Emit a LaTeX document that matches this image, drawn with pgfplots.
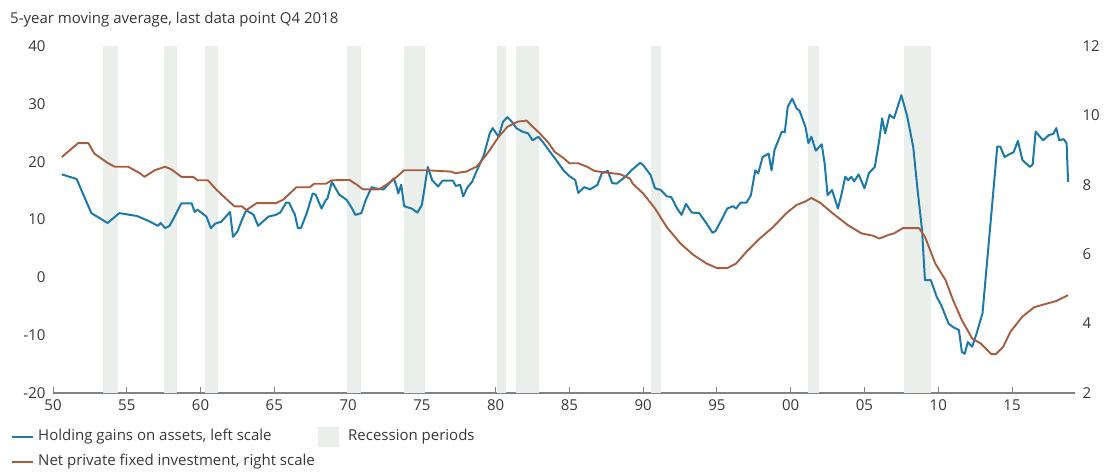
\documentclass[border=0pt]{standalone}
\usepackage{pgfplots}
\pgfplotsset{compat=1.18}
\usepackage{fontspec}
\setmainfont{Open Sans}
\definecolor{blueC}{RGB}{28,122,170}
\definecolor{brownC}{RGB}{168,92,62}
\definecolor{recess}{RGB}{235,239,235}
\definecolor{txt}{RGB}{55,55,55}
\definecolor{axc}{RGB}{130,130,130}
\newcommand{\fs}{\fontsize{15}{18}\selectfont}
\begin{document}
\begin{tikzpicture}[x=1pt,y=1pt]
\path[use as bounding box] (0,0) rectangle (1110,473);
\begin{axis}[
  at={(53pt,80pt)}, anchor=south west,
  scale only axis, width=1022pt, height=347pt,
  xmin=1950, xmax=2019.27, ymin=-20, ymax=40,
  axis x line*=bottom, axis y line*=left,
  y axis line style={draw=none},
  x axis line style={draw=axc, line width=1.3pt, -},
  xtick={1950,1955,...,2015},
  xticklabels={50,55,60,65,70,75,80,85,90,95,00,05,10,15},
  ytick={-20,-10,0,10,20,30,40},
  yticklabels={-20,-10,0,10,20,30,40},
  xtick style={draw=axc, line width=1pt},
  ytick style={draw=none},
  tick align=inside,
  major tick length=6pt,
  tick label style={font=\fs, text=txt},
  yticklabel style={xshift=-4pt},
  xticklabel style={yshift=-3pt},
]
% recession bands
\addplot[fill=recess, draw=none, forget plot] coordinates {(1953.4,-20)(1954.4,-20)(1954.4,40)(1953.4,40)} --cycle;
\addplot[fill=recess, draw=none, forget plot] coordinates {(1957.5,-20)(1958.4,-20)(1958.4,40)(1957.5,40)} --cycle;
\addplot[fill=recess, draw=none, forget plot] coordinates {(1960.3,-20)(1961.2,-20)(1961.2,40)(1960.3,40)} --cycle;
\addplot[fill=recess, draw=none, forget plot] coordinates {(1969.9,-20)(1970.9,-20)(1970.9,40)(1969.9,40)} --cycle;
\addplot[fill=recess, draw=none, forget plot] coordinates {(1973.8,-20)(1975.2,-20)(1975.2,40)(1973.8,40)} --cycle;
\addplot[fill=recess, draw=none, forget plot] coordinates {(1980.1,-20)(1980.7,-20)(1980.7,40)(1980.1,40)} --cycle;
\addplot[fill=recess, draw=none, forget plot] coordinates {(1981.4,-20)(1982.95,-20)(1982.95,40)(1981.4,40)} --cycle;
\addplot[fill=recess, draw=none, forget plot] coordinates {(1990.5,-20)(1991.2,-20)(1991.2,40)(1990.5,40)} --cycle;
\addplot[fill=recess, draw=none, forget plot] coordinates {(2001.2,-20)(2001.9,-20)(2001.9,40)(2001.2,40)} --cycle;
\addplot[fill=recess, draw=none, forget plot] coordinates {(2007.7,-20)(2009.5,-20)(2009.5,40)(2007.7,40)} --cycle;
% Holding gains on assets (left scale)
\addplot[blueC, line width=2pt, line join=round] coordinates {
(1950.6,17.8)(1951.6,17.0)(1952.6,11.1)(1953.7,9.4)(1954.5,11.1)(1955.7,10.6)(1956.6,9.6)
(1957.1,8.9)(1957.3,9.4)(1957.6,8.5)(1957.9,8.9)(1958.3,10.8)(1958.7,12.8)(1959.4,12.8)
(1959.6,11.3)(1959.8,11.7)(1960.4,10.5)(1960.7,8.5)(1961.0,9.3)(1961.4,9.6)(1962.0,11.3)
(1962.2,7.0)(1962.5,7.9)(1962.8,9.9)(1963.1,11.6)(1963.6,10.8)(1963.9,8.9)(1964.6,10.5)
(1965.1,10.8)(1965.4,11.2)(1965.8,12.9)(1966.0,12.9)(1966.4,10.8)(1966.6,8.5)(1966.8,8.5)
(1967.2,11.1)(1967.6,14.5)(1967.8,14.3)(1968.2,11.9)(1968.5,13.4)(1968.6,13.6)(1968.9,16.5)
(1969.4,14.3)(1969.9,13.4)(1970.2,12.2)(1970.5,10.8)(1970.9,11.1)(1971.2,13.4)(1971.6,15.6)
(1971.8,15.4)(1972.4,15.2)(1972.7,16.0)(1973.1,17.1)(1973.3,15.6)(1973.4,14.5)(1973.6,16.0)
(1973.8,12.3)(1974.3,11.9)(1974.7,11.2)(1975.0,12.5)(1975.2,15.7)(1975.4,19.1)(1975.7,16.8)
(1976.1,15.7)(1976.4,16.7)(1977.1,16.7)(1977.3,15.8)(1977.6,16.0)(1977.8,14.0)(1978.1,15.6)
(1978.4,16.5)(1978.7,18.3)(1979.2,21.1)(1979.6,24.9)(1979.8,25.8)(1980.2,24.3)(1980.5,26.9)
(1980.8,27.7)(1981.1,26.9)(1981.4,25.8)(1981.8,25.2)(1982.2,24.9)(1982.5,23.7)(1982.9,24.3)
(1983.2,23.4)(1983.6,22.0)(1984.1,20.3)(1984.6,18.5)(1985.0,17.5)(1985.4,16.8)(1985.6,14.6)
(1986.0,15.6)(1986.4,15.2)(1986.9,16.0)(1987.2,18.0)(1987.6,18.4)(1987.9,16.3)(1988.2,16.2)
(1988.8,17.4)(1989.2,18.5)(1989.8,19.8)(1990.0,19.4)(1990.5,17.7)(1990.8,15.4)(1991.2,15.1)
(1991.6,14.0)(1991.9,13.9)(1992.3,11.9)(1992.6,10.8)(1992.9,12.7)(1993.3,11.2)(1993.8,11.1)
(1994.3,9.3)(1994.7,7.7)(1994.9,8.0)(1995.3,9.9)(1995.7,11.9)(1996.1,12.3)(1996.3,11.9)
(1996.6,12.9)(1997.0,12.9)(1997.3,14.2)(1997.6,18.5)(1997.8,18.0)(1998.1,20.8)(1998.5,21.4)
(1998.7,18.5)(1998.9,22.0)(1999.4,25.2)(1999.6,25.1)(1999.8,29.5)(2000.1,30.9)(2000.4,29.2)
(2000.6,28.8)(2001.0,26.0)(2001.2,23.2)(2001.4,24.3)(2001.7,21.9)(2002.1,23.0)(2002.3,19.7)
(2002.5,14.2)(2002.8,15.1)(2003.2,11.9)(2003.4,13.9)(2003.7,17.4)(2003.9,16.8)(2004.1,17.4)
(2004.3,16.6)(2004.6,17.8)(2005.0,15.4)(2005.3,18.0)(2005.7,19.1)(2006.0,23.7)(2006.2,27.5)
(2006.4,24.9)(2006.7,28.1)(2007.0,27.5)(2007.5,31.5)(2007.9,27.8)(2008.3,22.6)(2008.6,15.1)
(2008.9,8.2)(2009.1,-0.5)(2009.5,-0.5)(2009.9,-3.4)(2010.2,-4.8)(2010.7,-8.0)(2011.0,-8.6)
(2011.4,-9.1)(2011.6,-12.9)(2011.8,-13.2)(2012.0,-11.2)(2012.3,-12.0)(2012.6,-9.7)(2013.0,-6.2)
(2013.3,2.4)(2013.7,13.9)(2014.0,22.6)(2014.2,22.6)(2014.5,20.8)(2014.9,21.4)(2015.1,21.6)
(2015.4,23.6)(2015.7,20.3)(2016.2,19.1)(2016.4,19.5)(2016.6,25.2)(2017.1,23.7)(2017.5,24.6)
(2017.8,24.8)(2018.0,25.8)(2018.2,23.7)(2018.5,23.9)(2018.7,23.2)(2018.8,16.5)
};
\end{axis}
\begin{axis}[
  at={(53pt,80pt)}, anchor=south west,
  scale only axis, width=1022pt, height=347pt,
  xmin=1950, xmax=2019.27, ymin=2, ymax=12,
  axis x line=none, axis y line*=right,
  y axis line style={draw=none},
  ytick={2,4,6,8,10,12},
  yticklabels={2,4,6,8,10,12},
  ytick style={draw=none},
  tick label style={font=\fs, text=txt},
  yticklabel style={xshift=4pt},
]
% Net private fixed investment (right scale)
\addplot[brownC, line width=1.9pt, line join=round] coordinates {
(1950.6,8.80)(1951.7,9.2)(1952.4,9.2)(1952.8,8.9)(1953.7,8.63)(1954.2,8.52)(1955.1,8.52)
(1955.9,8.33)(1956.2,8.23)(1956.9,8.42)(1957.6,8.52)(1958.0,8.45)(1958.7,8.23)(1959.5,8.23)
(1959.8,8.13)(1960.5,8.13)(1961.1,7.85)(1961.8,7.57)(1962.3,7.38)(1962.8,7.38)(1963.1,7.27)
(1963.8,7.47)(1965.1,7.47)(1965.6,7.57)(1966.5,7.93)(1967.4,7.93)(1967.7,8.03)(1968.5,8.03)
(1968.9,8.13)(1970.1,8.14)(1970.6,8.0)(1971.0,7.87)(1972.1,7.87)(1972.7,8.03)(1973.3,8.23)
(1973.8,8.42)(1975.3,8.42)(1977.0,8.38)(1977.3,8.33)(1977.5,8.35)(1978.0,8.38)(1978.7,8.52)
(1979.2,8.77)(1979.6,9.0)(1980.2,9.38)(1980.8,9.67)(1981.5,9.82)(1982.1,9.85)(1982.4,9.72)
(1983.0,9.48)(1983.6,9.2)(1984.0,8.95)(1984.6,8.77)(1985.0,8.62)(1985.6,8.62)(1986.2,8.52)
(1986.7,8.4)(1987.5,8.35)(1988.4,8.31)(1989.1,8.18)(1989.3,8.03)(1990.0,7.75)(1990.8,7.32)
(1991.6,6.78)(1992.5,6.32)(1993.4,5.98)(1994.3,5.73)(1995.0,5.6)(1995.7,5.6)(1996.3,5.73)
(1997.0,6.07)(1997.9,6.45)(1998.8,6.78)(1999.7,7.18)(2000.4,7.42)(2001.0,7.52)(2001.4,7.62)
(2002.0,7.48)(2002.9,7.16)(2003.9,6.83)(2004.8,6.6)(2005.6,6.53)(2006.0,6.45)(2006.6,6.55)
(2007.0,6.6)(2007.6,6.75)(2008.7,6.75)(2009.1,6.5)(2009.8,5.73)(2010.5,5.25)(2011.0,4.68)
(2011.6,4.1)(2012.3,3.57)(2012.9,3.42)(2013.6,3.12)(2013.9,3.12)(2014.4,3.33)(2014.9,3.77)
(2015.7,4.2)(2016.5,4.47)(2017.3,4.57)(2018.0,4.65)(2018.8,4.82)
};
\end{axis}
% title
\node[anchor=west, inner sep=0, font=\fs, text=txt] at (10,453) {5-year moving average, last data point Q4 2018};
% legend
\draw[blueC, line width=2pt] (12,36) -- (33,36);
\node[anchor=west, inner sep=0, font=\fs, text=txt] at (38,36) {Holding gains on assets, left scale};
\fill[recess] (318,26) rectangle (339,46);
\node[anchor=west, inner sep=0, font=\fs, text=txt] at (348,36) {Recession periods};
\draw[brownC, line width=2pt] (12,11) -- (33,11);
\node[anchor=west, inner sep=0, font=\fs, text=txt] at (38,11) {Net private fixed investment, right scale};
\end{tikzpicture}
\end{document}
